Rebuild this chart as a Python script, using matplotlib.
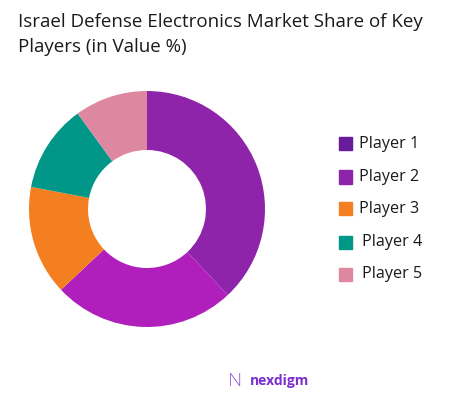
import matplotlib.pyplot as plt
from matplotlib.patches import Rectangle

# data
players = ["Player 1", "Player 2", "Player 3", "Player 4", "Player 5"]
shares = [38, 25, 15, 12, 10]
slice_colors = ["#8e24aa", "#b01fbb", "#f47f20", "#009688", "#dd88a0"]
legend_colors = ["#6a1b9a", "#8e24aa", "#f47f20", "#009688", "#dd88a0"]

plt.rcParams['font.family'] = ['Open Sans', 'DejaVu Sans']

W, H = 471, 394
fig = plt.figure(figsize=(W / 100, H / 100), dpi=100)

# donut, center (147, 209) px, radius 118 px
cx, cy, r = 147, 209, 118
ax = fig.add_axes([(cx - r) / W, (H - cy - r) / H, 2 * r / W, 2 * r / H])
ax.pie(shares, colors=slice_colors, startangle=90, counterclock=False,
       radius=1, wedgeprops=dict(width=0.5, linewidth=0))
ax.set_xlim(-1, 1)
ax.set_ylim(-1, 1)
ax.set_aspect('equal')
ax.axis('off')

# title
fig.text(18 / W, 1 - 27 / H, "Israel Defense Electronics Market Share of Key",
         fontsize=13.5, color="#1a1a1a", va='baseline', ha='left')
fig.text(18 / W, 1 - 52 / H, "Players (in Value %)",
         fontsize=13.5, color="#1a1a1a", va='baseline', ha='left')

# legend
row_y = [144, 177, 209, 242, 274]
text_x = [359, 359, 359, 362, 362]
for name, col, y, tx in zip(players, legend_colors, row_y, text_x):
    fig.patches.append(Rectangle((339 / W, 1 - (y + 6.5) / H), 13 / W, 13 / H,
                                 transform=fig.transFigure, color=col))
    fig.text(tx / W, 1 - y / H, name, fontsize=11.6, color="#1a1a1a",
             va='center', ha='left')

# logo
fig.text(235 / W, 1 - 381 / H, "N", fontsize=14, color="#9b59e0",
         va='center', ha='center', fontweight='light')
fig.text(250 / W, 1 - 381 / H, "nexdigm", fontsize=10, color="#7b2fd0",
         va='center', ha='left', fontweight='bold')

fig.savefig("out.png", dpi=100, facecolor="white")
